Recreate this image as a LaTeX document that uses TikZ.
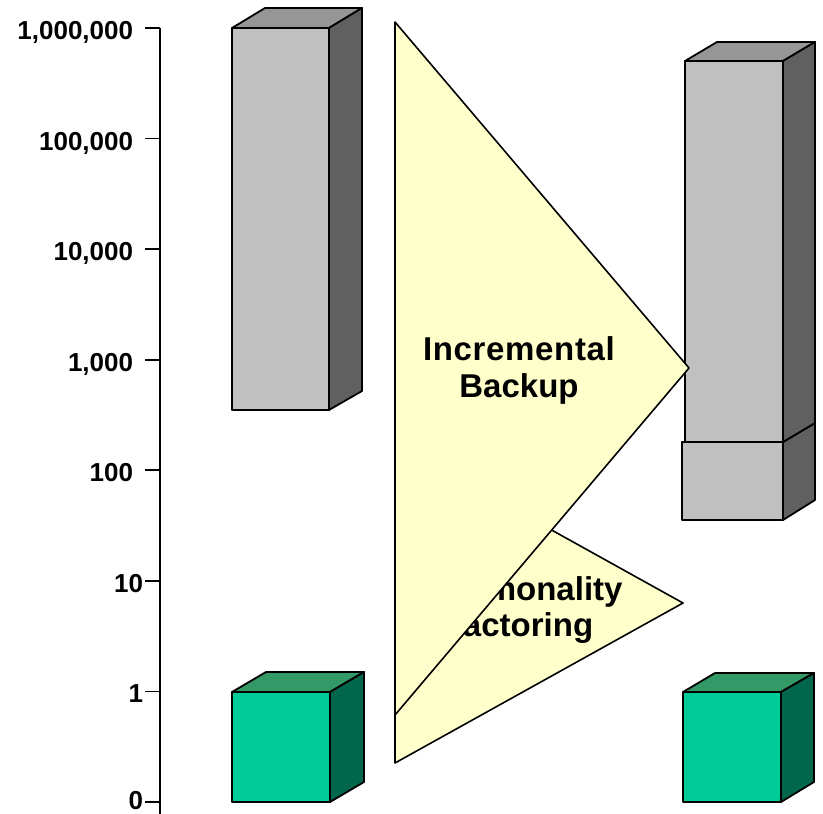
\documentclass[tikz,border=0pt]{standalone}
\usepackage{fontspec}
\setmainfont{Liberation Sans}
\definecolor{barfront}{HTML}{C0C0C0}
\definecolor{bartop}{HTML}{969696}
\definecolor{barside}{HTML}{606060}
\definecolor{cubefront}{HTML}{00CC99}
\definecolor{cubetop}{HTML}{339966}
\definecolor{cubeside}{HTML}{00664C}
\definecolor{arrowfill}{HTML}{FFFFCC}
\begin{document}
\begin{tikzpicture}[x=1pt,y=-1pt,line width=1.8pt,line join=round,
  face/.style={draw=black,fill=#1},
  axisline/.style={draw=black,line width=1.8pt},
  axislbl/.style={anchor=base east,inner sep=0pt,font=\fontsize{26}{30}\selectfont\bfseries},
  arrowlbl/.style={align=center,inner sep=0pt,font=\fontsize{33}{36.5}\selectfont\bfseries}]
\useasboundingbox (0,0) rectangle (823,814);

% axis
\coordinate (axtop) at (160,28);
\coordinate (axbot) at (160,814);
\draw[axisline] (axtop) -- (axbot);
\foreach \i/\lab/\lx/\dy in {0/{1,000,000}/134/11.5,1/{100,000}/134/11.5,2/{10,000}/134/11.5,3/{1,000}/134/11.5,4/{100}/134/11.5,5/{10}/144/11.5,6/{1}/144/11.5,7/{0}/144/7.5}{
  \pgfmathsetmacro{\ty}{28+110.57*\i}
  \coordinate (tk\i) at (145,\ty);
  \coordinate (tkend\i) at (160,\ty);
  \draw[axisline] (tk\i) -- (tkend\i);
  \node[axislbl] (lab\i) at (\lx,\ty+\dy) {\lab};
}

% left tall bar
\fill[face=barfront] (232,28) rectangle (329,410);
\fill[face=bartop] (232,28) -- (265,8) -- (362,8) -- (329,28) -- cycle;
\fill[face=barside] (329,28) -- (362,8) -- (362,391) -- (329,410) -- cycle;

% left cube
\fill[face=cubefront] (232,692) rectangle (330,802);
\fill[face=cubetop] (232,692) -- (266,672) -- (364,672) -- (330,692) -- cycle;
\fill[face=cubeside] (330,692) -- (364,672) -- (364,782) -- (330,802) -- cycle;

% right lower box
\fill[face=barfront] (682,442) rectangle (783,520);
\fill[face=barside] (783,442) -- (815,423) -- (815,500) -- (783,520) -- cycle;

% right upper box
\fill[face=barfront] (685,61) rectangle (783,442);
\fill[face=bartop] (685,61) -- (717,42) -- (815,42) -- (783,61) -- cycle;
\fill[face=barside] (783,61) -- (815,42) -- (815,423) -- (783,442) -- cycle;

% right cube
\fill[face=cubefront] (683,692) rectangle (781,802);
\fill[face=cubetop] (683,692) -- (715,673) -- (814,673) -- (781,692) -- cycle;
\fill[face=cubeside] (781,692) -- (814,673) -- (814,782) -- (781,802) -- cycle;

% small arrow
\fill[face=arrowfill,line width=1.6pt] (395,443) -- (683,603) -- (395,763) -- cycle;
\node[arrowlbl] (commfact) at (518,610) {Commonality\\Factoring};

% big arrow
\fill[face=arrowfill,line width=1.6pt] (395,22) -- (689,368) -- (395,715) -- cycle;
\node[arrowlbl] (incback) at (519,370.5) {\addfontfeatures{LetterSpace=2}Incremental\\Backup};
\end{tikzpicture}
\end{document}
